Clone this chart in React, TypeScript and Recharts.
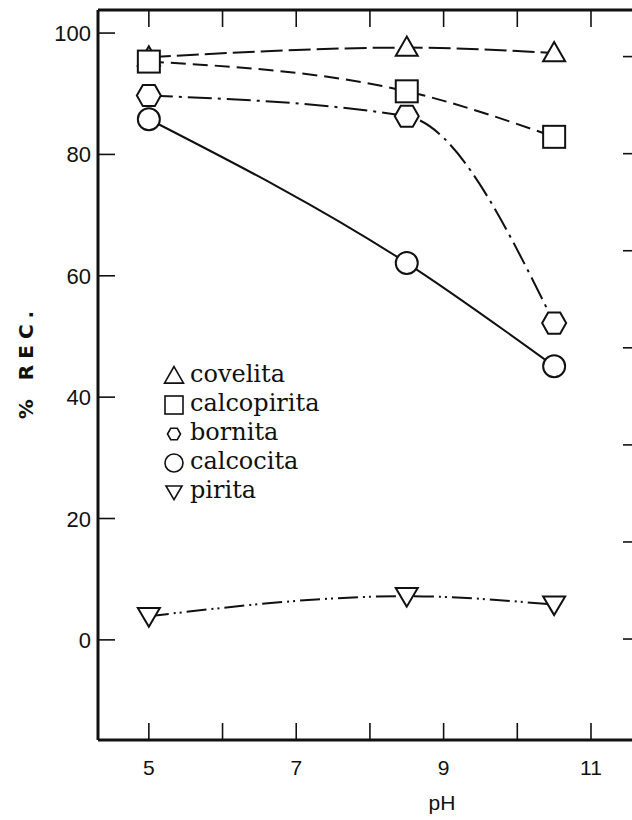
import React from "react"
import { LineChart, Line, XAxis, YAxis, Legend } from "recharts"

// pH values and % recovery
const phValues = [5, 8.5, 10.5]
const covelita = [96, 97.6, 96.7]
const calcopirita = [95.3, 90.4, 82.9]
const bornita = [89.7, 86.3, 52.2]
const calcocita = [85.8, 62.1, 45.1]
const pirita = [3.9, 7.2, 5.8]

const xTicks = [5, 6, 7, 8, 9, 10, 11]
const xLabelTicks = [5, 7, 9, 11]
const yTicks = [0, 20, 40, 60, 80, 100]
const rightTicks = [0, 1, 2, 3, 4, 5, 6]

const INK = "#111"

const data = phValues.map((ph, i) => ({
  ph,
  covelita: covelita[i],
  calcopirita: calcopirita[i],
  bornita: bornita[i],
  calcocita: calcocita[i],
  pirita: pirita[i],
}))

type Shape = "triUp" | "square" | "hexagon" | "circle" | "triDown"

const series: Array<{ key: string; name: string; dash?: string; shape: Shape }> = [
  { key: "covelita", name: "covelita", dash: "22 6", shape: "triUp" },
  { key: "calcopirita", name: "calcopirita", dash: "15 7", shape: "square" },
  { key: "bornita", name: "bornita", dash: "24 6 3 6", shape: "hexagon" },
  { key: "calcocita", name: "calcocita", shape: "circle" },
  { key: "pirita", name: "pirita", dash: "20 5 2 4 2 5", shape: "triDown" },
]

function marker(shape: Shape, cx: number, cy: number, s: number, sw: number, key?: string) {
  const common = { fill: "#fff", stroke: INK, strokeWidth: sw }
  switch (shape) {
    case "triUp":
      return <polygon key={key} {...common} points={`${cx},${cy - s} ${cx - s},${cy + s * 0.75} ${cx + s},${cy + s * 0.75}`} />
    case "triDown":
      return <polygon key={key} {...common} points={`${cx},${cy + s * 0.95} ${cx - s},${cy - s * 0.75} ${cx + s},${cy - s * 0.75}`} />
    case "square":
      return <rect key={key} {...common} x={cx - s} y={cy - s} width={s * 2} height={s * 2} />
    case "hexagon": {
      const h = s * 0.88
      return (
        <polygon
          key={key}
          {...common}
          points={`${cx - s},${cy} ${cx - s / 2},${cy - h} ${cx + s / 2},${cy - h} ${cx + s},${cy} ${cx + s / 2},${cy + h} ${cx - s / 2},${cy + h}`}
        />
      )
    }
    default:
      return <circle key={key} {...common} cx={cx} cy={cy} r={s} />
  }
}

const markerSize: Record<Shape, number> = { triUp: 11, square: 11, hexagon: 12, circle: 11, triDown: 11 }
const legendSize: Record<Shape, number> = { triUp: 9.5, square: 9, hexagon: 6.5, circle: 9, triDown: 8 }

const LeftTick = (props: any) => {
  const { x, y, payload } = props
  return (
    <g>
      <line x1={x} x2={x + 17} y1={y} y2={y} stroke={INK} strokeWidth={1.6} />
      <text x={x - 7} y={y + 8} textAnchor="end" fontSize={22} fontFamily="Liberation Sans" fill={INK}>
        {payload.value}
      </text>
    </g>
  )
}

const RightTick = (props: any) => {
  const { x, y } = props
  return <line x1={x - 17} x2={x} y1={y} y2={y} stroke={INK} strokeWidth={1.6} />
}

const TopTick = (props: any) => {
  const { x, y } = props
  return <line x1={x} x2={x} y1={y} y2={y + 17} stroke={INK} strokeWidth={1.6} />
}

const BottomTick = (props: any) => {
  const { x, y, payload } = props
  return (
    <g>
      <line x1={x} x2={x} y1={y - 17} y2={y} stroke={INK} strokeWidth={1.6} />
      {xLabelTicks.includes(payload.value) && (
        <text x={x} y={y + 35} textAnchor="middle" fontSize={21} fontFamily="Liberation Sans" fill={INK}>
          {payload.value}
        </text>
      )}
    </g>
  )
}

const LegendBox = () => (
  <div style={{ fontFamily: "DejaVu Serif", fontSize: 24, color: INK, lineHeight: "29px" }}>
    {series.map((s) => (
      <div key={s.key} style={{ display: "flex", alignItems: "center", height: 29 }}>
        <svg width={30} height={24} style={{ flex: "none" }}>
          {marker(s.shape, 14, 12, legendSize[s.shape], 1.6)}
        </svg>
        <span style={{ marginTop: -3 }}>{s.name}</span>
      </div>
    ))}
  </div>
)

export default function App() {
  return (
    <div style={{ position: "absolute", left: 0, top: 0, width: 632, height: 820, overflow: "hidden", background: "#fff" }}>
      <LineChart width={660} height={820} data={data} margin={{ top: 0, left: 0, right: 0, bottom: 0 }}>
        <XAxis
          xAxisId="bottom"
          dataKey="ph"
          type="number"
          domain={[4.31, 11.665]}
          allowDataOverflow
          ticks={xTicks}
          interval={0}
          height={80}
          tickSize={0}
          tickMargin={0}
          tick={<BottomTick />}
          axisLine={{ stroke: INK, strokeWidth: 3 }}
          tickLine={false}
          label={{
            content: () => (
              <text x={442} y={810} textAnchor="middle" fontSize={21} fontFamily="Liberation Sans" fill={INK}>
                pH
              </text>
            ),
          }}
        />
        <XAxis
          xAxisId="top"
          orientation="top"
          dataKey="ph"
          type="number"
          domain={[4.31, 11.665]}
          allowDataOverflow
          ticks={xTicks}
          interval={0}
          height={10}
          tickSize={0}
          tickMargin={0}
          tick={<TopTick />}
          axisLine={{ stroke: INK, strokeWidth: 3 }}
          tickLine={false}
        />
        <YAxis
          yAxisId="left"
          type="number"
          domain={[-16.5, 103.8]}
          allowDataOverflow
          ticks={yTicks}
          interval={0}
          width={98}
          tickSize={0}
          tickMargin={0}
          tick={<LeftTick />}
          axisLine={{ stroke: INK, strokeWidth: 3 }}
          tickLine={false}
          label={{
            content: () => (
              <text
                x={0}
                y={0}
                transform="translate(33, 362) rotate(-90)"
                textAnchor="middle"
                fontSize={20}
                fontWeight="bold"
                letterSpacing={6}
                fontFamily="DejaVu Sans"
                fill={INK}
              >
                % REC.
              </text>
            ),
          }}
        />
        <YAxis
          yAxisId="right"
          orientation="right"
          type="number"
          domain={[-1.04, 6.48]}
          allowDataOverflow
          ticks={rightTicks}
          interval={0}
          width={20}
          tickSize={0}
          tickMargin={0}
          tick={<RightTick />}
          axisLine={{ stroke: INK, strokeWidth: 3 }}
          tickLine={false}
        />
        <Legend
          layout="vertical"
          verticalAlign="middle"
          align="center"
          content={<LegendBox />}
          wrapperStyle={{ left: 160, top: 361, width: 220 }}
        />
        {series.map((s) => (
          <Line
            key={s.key}
            xAxisId="bottom"
            yAxisId="left"
            type="monotone"
            dataKey={s.key}
            name={s.name}
            stroke={INK}
            strokeWidth={2}
            strokeDasharray={s.dash}
            isAnimationActive={false}
            legendType="none"
            dot={(p: any) => marker(s.shape, p.cx, p.cy, markerSize[s.shape], 2, `${s.key}-${p.index}`)}
            activeDot={false}
          />
        ))}
      </LineChart>
    </div>
  )
}
